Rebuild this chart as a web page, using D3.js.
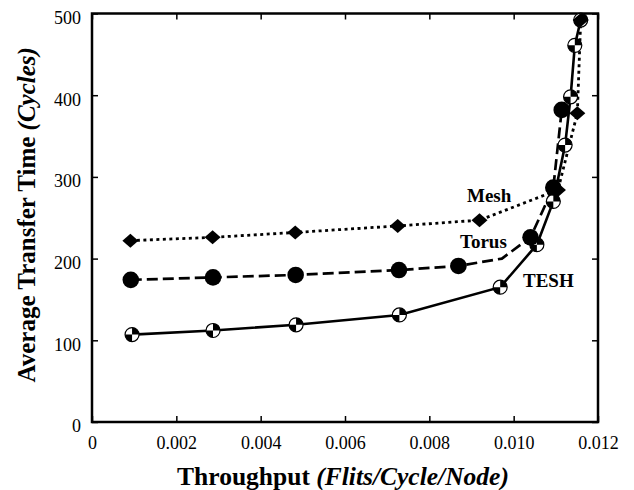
<!DOCTYPE html>
<html>
<head>
<meta charset="utf-8">
<script src="https://cdn.jsdelivr.net/npm/d3@7"></script>
<style>
  body { margin: 0; background: #fff; }
  text { font-family: "Liberation Serif", "Times New Roman", serif; fill: #000; }
</style>
</head>
<body>
<script>
// values
const meshX = [0.00091, 0.00286, 0.00482, 0.00725, 0.00919, 0.01105, 0.01151, 0.01159]
const meshY = [222, 226, 232, 240, 247, 284, 378, 492]
const torusX = [0.00092, 0.00287, 0.00483, 0.00728, 0.00869, 0.00972, 0.01040, 0.01094, 0.01114]
const torusY = [174, 177, 180, 186, 191, 200, 226, 287, 382]
const torusNoMarker = [5]
const teshX = [0.00095, 0.00287, 0.00484, 0.00729, 0.00968, 0.01055, 0.01094, 0.01122, 0.01135, 0.01145, 0.01159]
const teshY = [107, 112, 119, 131, 165, 217, 270, 339, 398, 461, 492]
const xTicks = [0, 0.002, 0.004, 0.006, 0.008, 0.010, 0.012]
const yTicks = [0, 100, 200, 300, 400, 500]

const W = 634, H = 490
const pLeft = 92, pRight = 598, pTop = 13.5, pBottom = 422

const svg = d3.select('body').append('svg')
    .attr('width', W)
    .attr('height', H)

const x = d3.scaleLinear().domain([0, 0.012]).range([pLeft, pRight])
const y = d3.scaleLinear().domain([0, 500]).range([pBottom, pTop])

const fmtX = function(d) { return d === 0 ? '0' : d3.format('.3f')(d) }

// axes, ticks point inward on all four sides
const gx = svg.append('g').attr('transform', 'translate(0,' + pBottom + ')')
    .call(d3.axisBottom(x).tickValues(xTicks).tickSize(-6).tickPadding(14).tickFormat(fmtX))
const gy = svg.append('g').attr('transform', 'translate(' + pLeft + ',0)')
    .call(d3.axisLeft(y).tickValues(yTicks).tickSize(-6).tickPadding(11))
const gt = svg.append('g').attr('transform', 'translate(0,' + pTop + ')')
    .call(d3.axisTop(x).tickValues(xTicks).tickSize(-6).tickFormat(''))
const gr = svg.append('g').attr('transform', 'translate(' + pRight + ',0)')
    .call(d3.axisRight(y).tickValues(yTicks).tickSize(-6).tickFormat(''))

;[gx, gy, gt, gr].forEach(function(g) {
    g.select('.domain').remove()
    g.selectAll('line').attr('stroke', '#000').attr('stroke-width', 1.5)
    g.selectAll('text').attr('font-family', '"Liberation Serif", serif').attr('font-size', 18).attr('fill', '#000')
})
gy.selectAll('text').attr('dy', '0.55em')

svg.append('rect')
    .attr('x', pLeft).attr('y', pTop)
    .attr('width', pRight - pLeft).attr('height', pBottom - pTop)
    .attr('fill', 'none').attr('stroke', '#000').attr('stroke-width', 2.5)

// series lines
const line = d3.line().x(function(d) { return x(d[0]) }).y(function(d) { return y(d[1]) })
const mesh = d3.zip(meshX, meshY)
const torus = d3.zip(torusX, torusY)
const tesh = d3.zip(teshX, teshY)

svg.append('path').datum(tesh).attr('d', line)
    .attr('fill', 'none').attr('stroke', '#000').attr('stroke-width', 2.6)
svg.append('path').datum(torus).attr('d', line)
    .attr('fill', 'none').attr('stroke', '#000').attr('stroke-width', 2.7)
    .attr('stroke-dasharray', '11,5')
svg.append('path').datum(mesh).attr('d', line)
    .attr('fill', 'none').attr('stroke', '#000').attr('stroke-width', 2.8)
    .attr('stroke-dasharray', '3,3.5')

// TESH markers: circle with two black quadrants
const r = 7
const tm = svg.selectAll('.tesh').data(tesh).enter().append('g')
    .attr('class', 'tesh')
    .attr('transform', function(d) { return 'translate(' + x(d[0]) + ',' + y(d[1]) + ')' })
tm.append('circle').attr('r', r).attr('fill', '#fff').attr('stroke', '#000').attr('stroke-width', 1.2)
tm.append('path').attr('d', 'M0,0 L0,' + (-r) + ' A' + r + ',' + r + ' 0 0 1 ' + r + ',0 Z').attr('fill', '#000')
tm.append('path').attr('d', 'M0,0 L0,' + r + ' A' + r + ',' + r + ' 0 0 1 ' + (-r) + ',0 Z').attr('fill', '#000')

// Torus markers: filled circles
svg.selectAll('.torus').data(torus.filter(function(d, i) { return torusNoMarker.indexOf(i) < 0 }))
    .enter().append('circle')
    .attr('class', 'torus')
    .attr('cx', function(d) { return x(d[0]) })
    .attr('cy', function(d) { return y(d[1]) })
    .attr('r', 8.3)
    .attr('fill', '#000')

// Mesh markers: diamonds
svg.selectAll('.mesh').data(mesh).enter().append('path')
    .attr('class', 'mesh')
    .attr('transform', function(d) { return 'translate(' + x(d[0]) + ',' + y(d[1]) + ')' })
    .attr('d', 'M0,-7 L8,0 L0,7 L-8,0 Z')
    .attr('fill', '#000')

// series labels
const labels = [['Mesh', 467, 202], ['Torus', 460, 248], ['TESH', 523, 287]]
labels.forEach(function(l) {
    svg.append('text').text(l[0])
        .attr('x', l[1]).attr('y', l[2])
        .attr('font-size', 19).attr('font-weight', 'bold')
})

// axis titles
const xt = svg.append('text')
    .attr('x', 343).attr('y', 485)
    .attr('text-anchor', 'middle')
    .attr('font-size', 25.5).attr('font-weight', 'bold')
xt.append('tspan').text('Throughput ')
xt.append('tspan').text('(Flits/Cycle/Node)').attr('font-style', 'italic')

const yt = svg.append('text')
    .attr('transform', 'translate(35,' + ((pTop + pBottom) / 2 - 3) + ') rotate(-90)')
    .attr('text-anchor', 'middle')
    .attr('font-size', 25).attr('font-weight', 'bold')
yt.append('tspan').text('Average Transfer Time ')
yt.append('tspan').text('(Cycles)').attr('font-style', 'italic')
</script>
</body>
</html>
